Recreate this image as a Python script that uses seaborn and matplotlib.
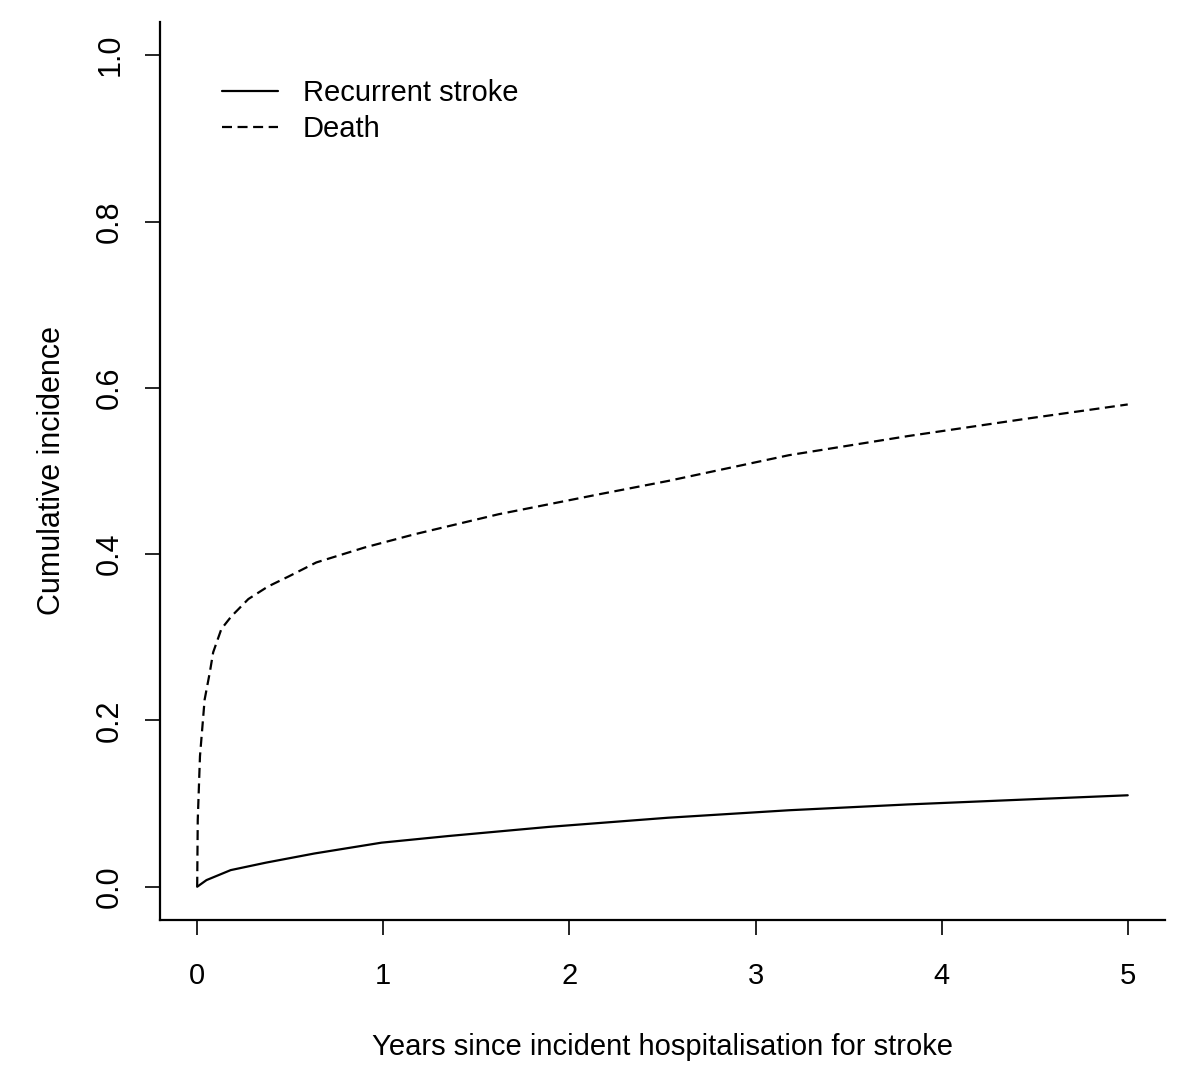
import pandas as pd
import matplotlib
matplotlib.use("Agg")
import matplotlib.pyplot as plt
import seaborn as sns

# Values (years, cumulative incidence)
stroke_years = [0, 0.05, 0.18, 0.37, 0.63, 0.99, 1.35, 1.89, 2.53, 3.18, 3.82, 4.46, 5.0]
stroke_ci = [0, 0.008, 0.020, 0.029, 0.040, 0.053, 0.061, 0.072, 0.083, 0.092, 0.099, 0.105, 0.110]

death_years = [0, 0.003, 0.015, 0.04, 0.068, 0.086, 0.13, 0.183, 0.275, 0.38, 0.49, 0.64,
               0.90, 1.17, 1.62, 1.89, 2.16, 2.53, 3.18, 3.82, 4.46, 5.0]
death_ci = [0, 0.08, 0.157, 0.225, 0.258, 0.282, 0.31, 0.325, 0.346, 0.361, 0.373, 0.390,
            0.408, 0.424, 0.448, 0.460, 0.472, 0.488, 0.519, 0.542, 0.563, 0.580]

x_ticks = [0, 1, 2, 3, 4, 5]
y_ticks = [0.0, 0.2, 0.4, 0.6, 0.8, 1.0]
y_ticklabels = ["0.0", "0.2", "0.4", "0.6", "0.8", "1.0"]

df = pd.concat([
    pd.DataFrame({"years": stroke_years, "ci": stroke_ci, "event": "Recurrent stroke"}),
    pd.DataFrame({"years": death_years, "ci": death_ci, "event": "Death"}),
])

sns.set_theme(style="ticks")
plt.rcParams["font.family"] = ["Liberation Sans", "DejaVu Sans"]
plt.rcParams["text.color"] = "black"
plt.rcParams["axes.labelcolor"] = "black"

fig = plt.figure(figsize=(12, 10.92), dpi=100)
ax = fig.add_axes([0.1333, 0.1575, 0.8375, 0.8224])

sns.lineplot(data=df, x="years", y="ci", style="event", color="black",
             dashes={"Recurrent stroke": "", "Death": (4.5, 2.5)},
             linewidth=1.6, ax=ax)

ax.set_xlim(-0.2, 5.2)
ax.set_ylim(-0.04, 1.04)
ax.set_xticks(x_ticks)
ax.set_yticks(y_ticks)
ax.set_yticklabels(y_ticklabels)
plt.setp(ax.get_yticklabels(), rotation=90, va="center")

for side in ["top", "right"]:
    ax.spines[side].set_visible(False)
for side in ["left", "bottom"]:
    ax.spines[side].set_linewidth(1.6)
    ax.spines[side].set_color("black")

ax.tick_params(axis="both", direction="out", length=11, width=1.2, colors="black")
ax.tick_params(axis="x", labelsize=21, pad=19)
ax.tick_params(axis="y", labelsize=22, pad=14)

ax.set_xlabel("Years since incident hospitalisation for stroke", fontsize=21, labelpad=31)
ax.set_ylabel("Cumulative incidence", fontsize=22, labelpad=20)

leg = ax.legend(loc="upper left", bbox_to_anchor=(0.036, 0.966), frameon=False,
                fontsize=21, handlelength=1.9, handletextpad=0.85, labelspacing=0.3)

plt.savefig("out.png", dpi=100)
